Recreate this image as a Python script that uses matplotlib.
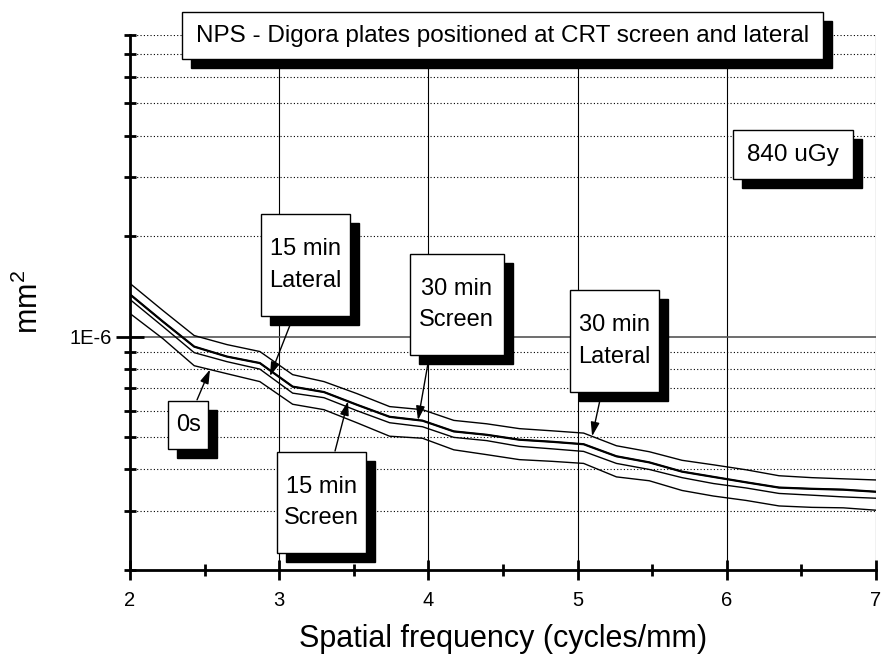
import numpy as np
import matplotlib.pyplot as plt
from matplotlib import ticker, transforms
from matplotlib.patches import Rectangle

plt.rcParams['font.family'] = ['Liberation Sans', 'DejaVu Sans']
plt.rcParams['mathtext.default'] = 'regular'

# spatial frequency (cycles/mm)
freq = [2.00, 2.22, 2.43, 2.65, 2.87, 3.09, 3.30, 3.52, 3.74, 3.96, 4.17, 4.39,
        4.61, 4.83, 5.04, 5.26, 5.48, 5.70, 5.91, 6.13, 6.35, 6.57, 6.78, 7.00]

# NPS in units of 1e-6 mm^2
nps_0s = [1.172, 0.986, 0.818, 0.774, 0.733, 0.627, 0.604, 0.552, 0.503, 0.496, 0.458, 0.443,
          0.428, 0.423, 0.417, 0.380, 0.370, 0.346, 0.333, 0.323, 0.311, 0.308, 0.307, 0.302]
nps_15_lateral = [1.291, 1.072, 0.895, 0.841, 0.799, 0.677, 0.656, 0.600, 0.552, 0.537, 0.499, 0.488,
                  0.469, 0.461, 0.453, 0.417, 0.400, 0.378, 0.363, 0.352, 0.339, 0.335, 0.331, 0.328]
nps_15_screen = [1.337, 1.109, 0.933, 0.871, 0.833, 0.708, 0.682, 0.625, 0.575, 0.560, 0.520, 0.508,
                 0.491, 0.484, 0.476, 0.438, 0.420, 0.394, 0.380, 0.366, 0.353, 0.350, 0.348, 0.343]
nps_30_screen = [1.337, 1.109, 0.933, 0.871, 0.833, 0.708, 0.682, 0.625, 0.575, 0.560, 0.520, 0.508,
                 0.491, 0.484, 0.476, 0.438, 0.420, 0.394, 0.380, 0.366, 0.353, 0.350, 0.348, 0.343]
nps_30_lateral = [1.442, 1.197, 1.007, 0.946, 0.902, 0.769, 0.733, 0.675, 0.617, 0.604, 0.561, 0.548,
                  0.530, 0.522, 0.514, 0.471, 0.452, 0.426, 0.413, 0.399, 0.383, 0.378, 0.375, 0.372]

fig = plt.figure(figsize=(8.84, 6.6), dpi=100)
ax = fig.add_axes([0.1471, 0.1364, 0.8439, 0.8106])

series = {
    '0s': np.array(nps_0s) * 1e-6,
    '15 min\nLateral': np.array(nps_15_lateral) * 1e-6,
    '15 min\nScreen': np.array(nps_15_screen) * 1e-6,
    '30 min\nScreen': np.array(nps_30_screen) * 1e-6,
    '30 min\nLateral': np.array(nps_30_lateral) * 1e-6,
}
for name, vals in series.items():
    lw = 1.6 if name == '30 min\nScreen' else 1.0
    ax.plot(freq, vals, color='black', lw=lw, zorder=3)

ax.set_yscale('log')
ax.set_xlim(2, 7)
ax.set_ylim(2e-7, 8e-6)

ax.spines['top'].set_visible(False)
ax.spines['right'].set_visible(False)
ax.spines['left'].set_linewidth(2)
ax.spines['bottom'].set_linewidth(2)

ax.xaxis.set_major_locator(ticker.MultipleLocator(1))
ax.xaxis.set_minor_locator(ticker.MultipleLocator(0.5))
ax.yaxis.set_major_locator(ticker.LogLocator(base=10))
ax.yaxis.set_minor_locator(ticker.LogLocator(base=10, subs=range(2, 10)))
ax.yaxis.set_major_formatter(ticker.FuncFormatter(lambda v, p: '1E%d' % round(np.log10(v))))
ax.yaxis.set_minor_formatter(ticker.NullFormatter())
ax.tick_params(which='major', direction='inout', length=14, width=2, labelsize=14.5)
ax.tick_params(axis='x', which='major', pad=8)
ax.tick_params(axis='y', which='major', length=20, pad=3)
ax.tick_params(which='minor', direction='inout', length=9, width=2)

ax.grid(axis='x', which='major', color='black', lw=0.8)
ax.grid(axis='y', which='major', color='#555555', lw=1.2)
ax.grid(axis='y', which='minor', color='black', lw=0.8, ls=(0, (1, 2)))
ax.set_axisbelow(True)

ax.set_xlabel('Spatial frequency (cycles/mm)', fontsize=22, labelpad=10)
ax.set_ylabel('mm$^2$', fontsize=22, labelpad=18)

shadow = transforms.offset_copy(ax.transAxes, fig=fig, x=9, y=-9, units='dots')


def note_box(x0, y0, x1, y1, text, size=17):
    ax.add_patch(Rectangle((x0, y0), x1 - x0, y1 - y0, transform=shadow,
                           fc='black', ec='black', clip_on=False, zorder=5))
    ax.add_patch(Rectangle((x0, y0), x1 - x0, y1 - y0, transform=ax.transAxes,
                           fc='white', ec='black', lw=1, clip_on=False, zorder=6))
    ax.text((x0 + x1) / 2, (y0 + y1) / 2, text, transform=ax.transAxes,
            ha='center', va='center', fontsize=size, linespacing=1.55, zorder=7)


def arrow(name, x, start):
    y = np.interp(x, freq, series[name])
    ax.annotate('', xy=(x, y), xytext=start, textcoords='axes fraction',
                arrowprops=dict(arrowstyle='-|>,head_length=0.7,head_width=0.22',
                                mutation_scale=12, color='black', lw=1,
                                shrinkA=0, shrinkB=0), zorder=4)


note_box(0.0697, 0.955, 0.929, 1.043,
         'NPS - Digora plates positioned at CRT screen and lateral', size=17.5)
note_box(0.808, 0.731, 0.969, 0.822, '840 uGy', size=17.5)
note_box(0.176, 0.475, 0.295, 0.665, '15 min\nLateral')
note_box(0.051, 0.226, 0.1046, 0.316, '0s')
note_box(0.197, 0.0318, 0.316, 0.2206, '15 min\nScreen')
note_box(0.375, 0.402, 0.501, 0.591, '30 min\nScreen')
note_box(0.590, 0.333, 0.709, 0.523, '30 min\nLateral')

arrow('0s', 2.536, (0.0898, 0.318))
arrow('15 min\nLateral', 2.938, (0.2145, 0.458))
arrow('15 min\nScreen', 3.461, (0.2748, 0.2224))
arrow('30 min\nScreen', 3.930, (0.3995, 0.387))
arrow('30 min\nLateral', 5.097, (0.630, 0.318))

fig.savefig('out.png', dpi=100)
